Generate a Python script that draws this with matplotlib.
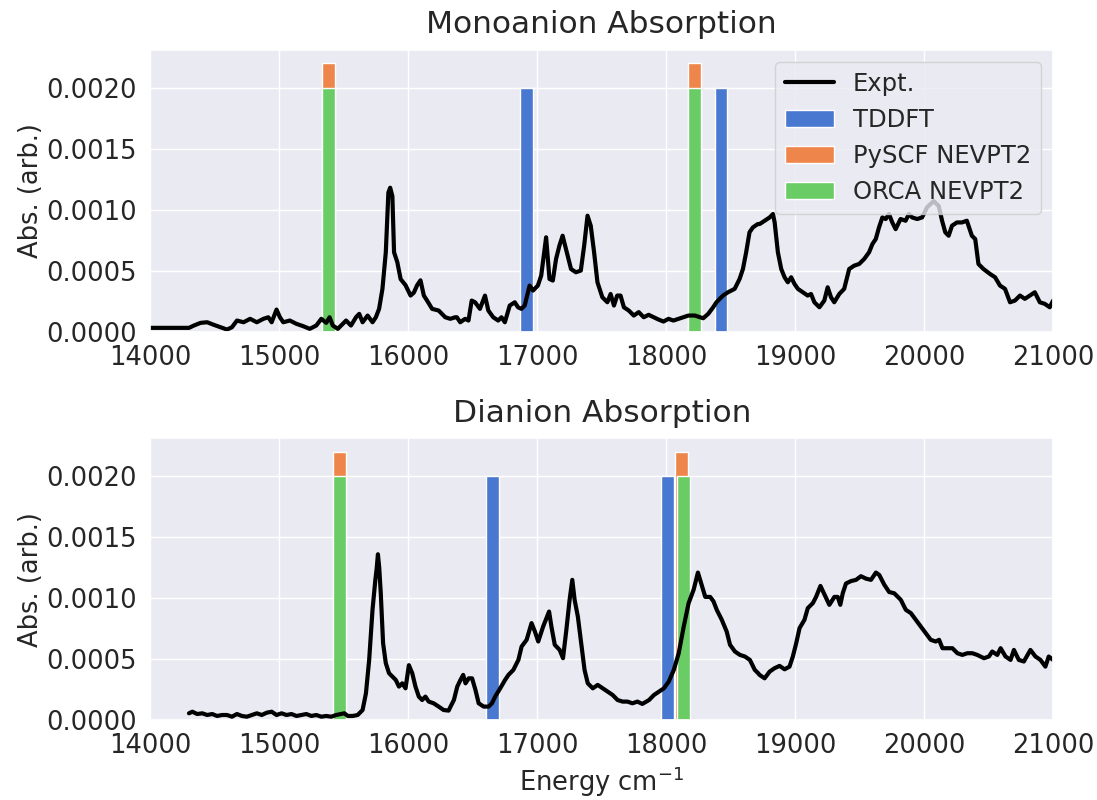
import matplotlib
matplotlib.use("Agg")
import matplotlib.pyplot as plt
import seaborn as sns

sns.set_theme(style="darkgrid")
plt.rcParams['font.family'] = ['DejaVu Sans']

mono_E = [14000, 14300, 14338, 14390, 14441, 14492, 14544, 14595, 14633, 14672, 14723, 14774, 14826, 14877,
          14915, 14941, 14979, 15005, 15031, 15082, 15133, 15185, 15236, 15287, 15326, 15364, 15390, 15415,
          15454, 15492, 15518, 15556, 15595, 15620, 15646, 15685, 15723, 15749, 15774, 15800, 15826, 15846,
          15860, 15877, 15890, 15915, 15941, 15979, 16018, 16044, 16069, 16095, 16121, 16146, 16185, 16236,
          16287, 16326, 16364, 16377, 16403, 16441, 16467, 16492, 16518, 16556, 16595, 16621, 16659, 16697,
          16723, 16749, 16787, 16826, 16851, 16877, 16903, 16941, 16967, 17005, 17031, 17069, 17095, 17121,
          17146, 17172, 17197, 17223, 17262, 17300, 17338, 17364, 17390, 17415, 17441, 17467, 17505, 17544,
          17569, 17595, 17620, 17646, 17672, 17710, 17749, 17787, 17826, 17864, 17903, 17941, 17979, 18018,
          18056, 18095, 18133, 18172, 18223, 18262, 18287, 18326, 18364, 18390, 18415, 18441, 18479, 18531,
          18569, 18595, 18620, 18646, 18672, 18710, 18725, 18764, 18802, 18828, 18841, 18866, 18892, 18918,
          18943, 18969, 18995, 19021, 19059, 19097, 19123, 19149, 19188, 19226, 19252, 19278, 19303, 19342,
          19380, 19419, 19457, 19496, 19535, 19573, 19599, 19625, 19650, 19676, 19702, 19727, 19753, 19779,
          19817, 19856, 19882, 19907, 19946, 19984, 20023, 20074, 20113, 20139, 20164, 20190, 20216, 20254,
          20293, 20331, 20370, 20396, 20421, 20460, 20511, 20550, 20588, 20627, 20666, 20704, 20743, 20781,
          20820, 20858, 20897, 20935, 20974, 21000]
mono_A = [0.00003, 0.00003, 0.000049, 0.000071, 0.000076, 0.000055, 0.000035, 0.000016, 0.000035, 0.00009,
          0.000076, 0.000104, 0.000076, 0.000104, 0.000117, 0.000076, 0.00018, 0.000117, 0.000076, 0.00009,
          0.000063, 0.000044, 0.000022, 0.000049, 0.000104, 0.000071, 0.000117, 0.000049, 0.000022, 0.000063,
          0.00009, 0.000049, 0.000117, 0.000145, 0.000076, 0.000131, 0.000076, 0.000117, 0.000186, 0.00035,
          0.00065, 0.00114, 0.00118, 0.00111, 0.00065, 0.00057, 0.00043, 0.00038, 0.000295, 0.00032,
          0.00038, 0.00042, 0.000295, 0.000254, 0.000186, 0.000172, 0.000117, 0.000104, 0.000117, 0.000117,
          0.000076, 0.000104, 0.00009, 0.000254, 0.00024, 0.000186, 0.000295, 0.000172, 0.000117, 0.00009,
          0.000117, 0.000076, 0.000213, 0.00024, 0.000199, 0.000186, 0.000213, 0.000377, 0.000336, 0.000377,
          0.000459, 0.000773, 0.000431, 0.000418, 0.000595, 0.000704, 0.000786, 0.000677, 0.000513, 0.000486,
          0.0005, 0.000704, 0.00095, 0.000868, 0.00065, 0.000404, 0.000281, 0.00024, 0.000308, 0.000213,
          0.000295, 0.000295, 0.000199, 0.000172, 0.000131, 0.000159, 0.000117, 0.000137, 0.000117, 0.000098,
          0.000082, 0.000104, 0.00009, 0.000104, 0.000117, 0.000131, 0.000131, 0.000117, 0.000109, 0.000145,
          0.000199, 0.00024, 0.000268, 0.000295, 0.000322, 0.00035, 0.000431, 0.000513, 0.00065, 0.000814,
          0.000854, 0.000882, 0.000882, 0.000909, 0.000936, 0.000964, 0.000895, 0.00065, 0.000513, 0.000445,
          0.000404, 0.000445, 0.00039, 0.00035, 0.000322, 0.000295, 0.000308, 0.00024, 0.000199, 0.000254,
          0.000363, 0.000281, 0.00024, 0.000308, 0.00035, 0.000513, 0.00054, 0.000554, 0.000595, 0.00065,
          0.000718, 0.000759, 0.000854, 0.000936, 0.000923, 0.000964, 0.000895, 0.00084, 0.000923, 0.000909,
          0.000964, 0.000936, 0.000923, 0.000936, 0.00102, 0.00107, 0.00103, 0.000909, 0.000814, 0.000786,
          0.000868, 0.000895, 0.000895, 0.000909, 0.000786, 0.000759, 0.000554, 0.000513, 0.000472, 0.000445,
          0.000377, 0.00035, 0.00024, 0.000254, 0.000295, 0.000268, 0.000295, 0.000322, 0.00024, 0.000227,
          0.000199, 0.000254]

di_E = [14300, 14326, 14364, 14403, 14441, 14480, 14518, 14556, 14595, 14633, 14672, 14710, 14749, 14787,
        14826, 14864, 14903, 14941, 14979, 15018, 15056, 15095, 15133, 15172, 15210, 15249, 15287, 15326,
        15364, 15403, 15441, 15479, 15505, 15531, 15569, 15608, 15646, 15672, 15697, 15723, 15745, 15755,
        15765, 15775, 15787, 15805, 15826, 15851, 15877, 15903, 15928, 15954, 15979, 16005, 16031, 16056,
        16082, 16108, 16133, 16159, 16197, 16236, 16274, 16313, 16328, 16354, 16380, 16405, 16426, 16444,
        16469, 16495, 16521, 16546, 16585, 16623, 16649, 16674, 16713, 16751, 16777, 16815, 16854, 16879,
        16918, 16956, 16982, 17008, 17046, 17092, 17110, 17136, 17174, 17200, 17226, 17251, 17272, 17290,
        17315, 17341, 17367, 17392, 17431, 17469, 17508, 17546, 17585, 17623, 17662, 17700, 17738, 17777,
        17815, 17867, 17905, 17944, 17982, 18020, 18059, 18097, 18136, 18174, 18213, 18246, 18277, 18303,
        18341, 18367, 18392, 18431, 18469, 18495, 18533, 18572, 18610, 18649, 18687, 18713, 18724, 18763,
        18802, 18840, 18879, 18918, 18956, 18982, 19008, 19034, 19072, 19098, 19137, 19162, 19196, 19227,
        19265, 19304, 19330, 19350, 19369, 19394, 19433, 19472, 19510, 19549, 19588, 19626, 19652, 19691,
        19729, 19768, 19819, 19858, 19897, 19935, 19974, 20013, 20051, 20090, 20116, 20142, 20180, 20219,
        20258, 20296, 20335, 20374, 20412, 20464, 20502, 20528, 20567, 20593, 20631, 20670, 20696, 20734,
        20773, 20824, 20863, 20902, 20940, 20966, 21000]
di_A = [0.000055, 0.000068, 0.000049, 0.000055, 0.000041, 0.000049, 0.000033, 0.000041, 0.000041, 0.000027,
        0.000049, 0.000033, 0.000027, 0.000041, 0.000055, 0.000041, 0.00006, 0.000068, 0.000041, 0.000055,
        0.000041, 0.000049, 0.000033, 0.000041, 0.000049, 0.000033, 0.000041, 0.000027, 0.000033, 0.000027,
        0.000041, 0.000049, 0.000055, 0.000033, 0.000033, 0.000041, 0.000082, 0.000219, 0.000493, 0.000904,
        0.00115, 0.00124, 0.00136, 0.00125, 0.00104, 0.00063, 0.000466, 0.000384, 0.000356, 0.000329,
        0.000274, 0.000301, 0.00026, 0.00045, 0.000384, 0.000274, 0.000192, 0.000164, 0.000192, 0.000151,
        0.000137, 0.00011, 0.000082, 0.000077, 0.00011, 0.000164, 0.000274, 0.000329, 0.00037, 0.000301,
        0.000342, 0.000342, 0.000247, 0.000137, 0.00011, 0.00011, 0.000137, 0.000192, 0.00026, 0.000329,
        0.00037, 0.000411, 0.000493, 0.000603, 0.000658, 0.000795, 0.000726, 0.000644, 0.000767, 0.00089,
        0.000767, 0.000617, 0.000575, 0.000507, 0.00074, 0.000986, 0.00115, 0.000986, 0.000849, 0.00063,
        0.000411, 0.000301, 0.00026, 0.000288, 0.00026, 0.000233, 0.000205, 0.000164, 0.000151, 0.000151,
        0.000137, 0.000151, 0.000132, 0.000164, 0.000205, 0.000233, 0.00026, 0.000315, 0.000411, 0.000548,
        0.000767, 0.000959, 0.00107, 0.00121, 0.0011, 0.00101, 0.00101, 0.000973, 0.000904, 0.000822,
        0.000726, 0.000617, 0.000562, 0.000534, 0.000521, 0.000493, 0.000411, 0.000384, 0.00037, 0.000342,
        0.000397, 0.000425, 0.000444, 0.000416, 0.000438, 0.000521, 0.00063, 0.000754, 0.000822, 0.000918,
        0.000959, 0.00101, 0.0011, 0.00103, 0.000945, 0.00101, 0.00101, 0.000945, 0.00104, 0.00112,
        0.00114, 0.00115, 0.00118, 0.00116, 0.00115, 0.00121, 0.00119, 0.00111, 0.00105, 0.00104,
        0.000986, 0.000904, 0.000877, 0.000822, 0.000767, 0.000712, 0.000658, 0.000644, 0.000658, 0.000589,
        0.000589, 0.000589, 0.000548, 0.000534, 0.000548, 0.000548, 0.000534, 0.000507, 0.000521, 0.000562,
        0.000534, 0.000589, 0.000521, 0.000493, 0.000575, 0.000493, 0.00048, 0.000575, 0.000521, 0.000493,
        0.000438, 0.000521, 0.000493]

# computed transition energies (cm^-1)
mono_tddft = [16920, 18425]
mono_pyscf = [15380, 18220]
mono_orca = [15380, 18220]
di_tddft = [16650, 18010]
di_pyscf = [15470, 18120]
di_orca = [15470, 18135]

fs = 18.5
pal = sns.color_palette("muted")

fig, axes = plt.subplots(2, 1, figsize=(10.97, 8), dpi=100)
fig.subplots_adjust(left=0.137, right=0.96, top=0.9375, bottom=0.1, hspace=0.38)

panels = [
    (axes[0], "Monoanion Absorption", mono_E, mono_A, mono_tddft, mono_pyscf, mono_orca),
    (axes[1], "Dianion Absorption", di_E, di_A, di_tddft, di_pyscf, di_orca),
]

for ax, title, E, A, tddft, pyscf, orca in panels:
    ax.plot(E, A, color='black', lw=3, label='Expt.')
    ax.bar(tddft, [0.002] * len(tddft), width=100, color=pal[0], label='TDDFT')
    ax.bar(pyscf, [0.0022] * len(pyscf), width=100, color=pal[1], label='PySCF NEVPT2')
    ax.bar(orca, [0.002] * len(orca), width=100, color=pal[2], label='ORCA NEVPT2')
    ax.set_xlim(14000, 21000)
    ax.set_ylim(0, 0.00231)
    ax.set_yticks([0, 0.0005, 0.001, 0.0015, 0.002])
    ax.set_yticklabels(['0.0000', '0.0005', '0.0010', '0.0015', '0.0020'])
    ax.tick_params(labelsize=fs)
    ax.set_ylabel("Abs. (arb.)", fontsize=fs, labelpad=2)
    ax.set_title(title, fontsize=22.5, pad=12)

axes[0].legend(loc='upper right', fontsize=17.5)
axes[1].set_xlabel(r"Energy cm$^{-1}$", fontsize=fs)

plt.savefig("out.png", dpi=100)
